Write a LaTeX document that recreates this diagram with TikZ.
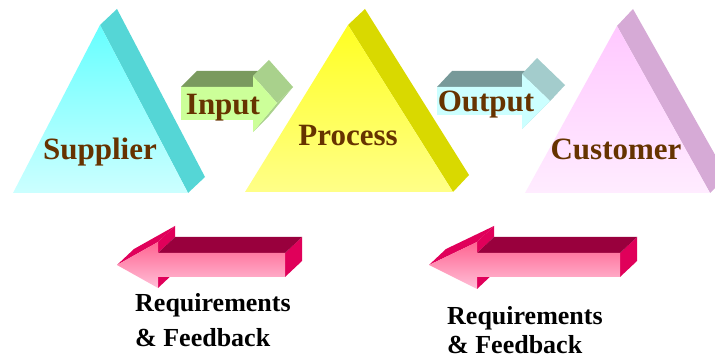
\documentclass[tikz,border=0pt]{standalone}
\usepackage{fontspec}
\setmainfont{Liberation Serif}
\usepackage{tikz}
\definecolor{scbrown}{RGB}{102,51,0}
\definecolor{supfront}{RGB}{102,255,255}
\definecolor{supbase}{RGB}{204,255,255}
\definecolor{supside}{RGB}{85,214,214}
\definecolor{profront}{RGB}{255,255,34}
\definecolor{probase}{RGB}{255,255,136}
\definecolor{proside}{RGB}{217,217,0}
\definecolor{cusfront}{RGB}{255,200,255}
\definecolor{cusbase}{RGB}{255,236,255}
\definecolor{cusside}{RGB}{214,170,214}
\definecolor{inface}{RGB}{204,255,153}
\definecolor{intop}{RGB}{122,154,94}
\definecolor{inhead}{RGB}{169,209,140}
\definecolor{outface}{RGB}{204,255,255}
\definecolor{outtop}{RGB}{119,153,153}
\definecolor{outhead}{RGB}{163,204,204}
\definecolor{fbtop}{RGB}{153,0,61}
\definecolor{fbside}{RGB}{224,0,90}
\definecolor{fbhigh}{RGB}{255,100,145}
\definecolor{fblow}{RGB}{255,192,216}
\tikzset{
  stagetext/.style={text=scbrown, font=\fontsize{31}{37}\selectfont\bfseries,
    inner sep=0pt, anchor=base},
  feedtext/.style={text=black, font=\fontsize{26}{30}\selectfont\bfseries,
    inner sep=0pt, anchor=base west},
  fbfront/.style={top color=fbhigh, bottom color=fblow, draw=none}
}
\begin{document}
\begin{tikzpicture}[x=1pt,y=-1pt]
  \useasboundingbox (0,0) rectangle (715,363);
  \clip (0,0) rectangle (715,363);

  % pyramids
  \fill[supside] (100,25) -- (117,9) -- (205,177) -- (188,193) -- cycle;
  \shade[top color=supfront, bottom color=supbase] (13,193) -- (100,25) -- (188,193) -- cycle;
  \fill[proside] (348,25) -- (365,9) -- (469,175) -- (453,192) -- cycle;
  \shade[top color=profront, bottom color=probase] (245,192) -- (348,25) -- (453,192) -- cycle;
  \fill[cusside] (617,26) -- (633,9) -- (727,176) -- (710,193) -- cycle;
  \shade[top color=cusfront, bottom color=cusbase] (525,193) -- (617,26) -- (710,193) -- cycle;

  % input arrow
  \fill[intop] (181,87) -- (253,87) -- (269,71) -- (197,71) -- cycle;
  \fill[inhead] (253,76) -- (277,103) -- (293,87) -- (269,60) -- cycle;
  \fill[inhead] (277,103) -- (253,132) -- (269,116) -- (293,87) -- cycle;
  \fill[inface] (181,87) -- (253,87) -- (253,76) -- (277,103) -- (253,132)
    -- (253,120) -- (181,120) -- cycle;

  % output arrow
  \fill[outtop] (437,87) -- (522,87) -- (537,71) -- (452,71) -- cycle;
  \fill[outhead] (522,74) -- (550,101) -- (565,85) -- (537,58) -- cycle;
  \fill[outhead] (550,101) -- (522,129) -- (537,113) -- (565,85) -- cycle;
  \fill[outface] (437,87) -- (522,87) -- (522,74) -- (550,101) -- (522,129)
    -- (522,115) -- (437,115) -- cycle;

  % feedback arrows
  \fill[fbside] (117,265) -- (158,242) -- (175,226) -- (134,249) -- cycle;
  \fill[fbside] (158,242) -- (158,253) -- (175,237) -- (175,226) -- cycle;
  \fill[fbside] (158,277) -- (158,288) -- (175,272) -- (175,261) -- cycle;
  \fill[fbside] (285,253) -- (285,277) -- (302,261) -- (302,237) -- cycle;
  \fill[fbtop] (158,253) -- (285,253) -- (302,237) -- (175,237) -- cycle;
  \shade[fbfront] (117,265) -- (158,242) -- (158,253) -- (285,253) -- (285,277)
    -- (158,277) -- (158,288) -- cycle;

  \fill[fbside] (429,265) -- (477,242) -- (494,226) -- (446,249) -- cycle;
  \fill[fbside] (477,242) -- (477,253) -- (494,237) -- (494,226) -- cycle;
  \fill[fbside] (477,277) -- (477,289) -- (494,273) -- (494,261) -- cycle;
  \fill[fbside] (620,253) -- (620,277) -- (637,261) -- (637,237) -- cycle;
  \fill[fbtop] (477,253) -- (620,253) -- (637,237) -- (494,237) -- cycle;
  \shade[fbfront] (429,265) -- (477,242) -- (477,253) -- (620,253) -- (620,277)
    -- (477,277) -- (477,289) -- cycle;

  % labels
  \node[stagetext] (supplier) at (100,160) {Supplier};
  \node[stagetext] (process) at (348,146) {Process};
  \node[stagetext] (customer) at (616,160) {Customer};
  \node[stagetext] (input) at (223,115) {Input};
  \node[stagetext] (output) at (486,112) {Output};

  \node[feedtext] (reqleft) at (135,312) {Requirements};
  \node[feedtext] (fbleft) at (135,347) {\& Feedback};
  \node[feedtext] (reqright) at (447,325) {Requirements};
  \node[feedtext] (fbright) at (447,353) {\& Feedback};
\end{tikzpicture}
\end{document}
